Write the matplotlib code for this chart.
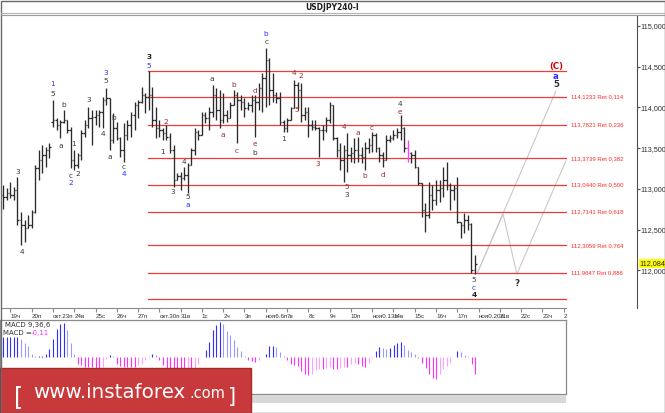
import matplotlib
matplotlib.use("Agg")
import matplotlib.pyplot as plt
import matplotlib.transforms as mtransforms
from matplotlib.collections import LineCollection
from matplotlib.patches import Rectangle

W, H = 665, 413

# 4H bars, USDJPY, 18 Oct .. 17 Nov
highs = [
    113.047, 113.010, 113.084, 113.023, 113.145, 112.716, 112.618, 112.679, 112.741, 113.293,
    113.477, 113.538, 113.513, 113.562, 114.090, 113.869, 113.845, 113.967, 113.845, 113.759,
    113.477, 113.440, 113.722, 113.845, 114.004, 113.967, 113.967, 113.967, 114.127, 114.237,
    114.114, 113.930, 113.820, 113.636, 113.808, 113.845, 113.943, 114.065, 114.090, 114.249,
    114.176, 114.446, 114.249, 114.004, 113.845, 113.746, 113.783, 113.685, 113.538, 113.194,
    113.207, 113.268, 113.317, 113.501, 113.746, 113.722, 113.943, 113.943, 114.004, 114.274,
    114.237, 114.213, 114.176, 113.967, 114.065, 114.213, 114.188, 114.151, 114.114, 114.065,
    114.151, 114.151, 114.298, 114.421, 114.728, 114.605, 114.421, 114.188, 114.188, 113.845,
    113.869, 114.004, 114.335, 114.311, 114.298, 114.004, 114.004, 113.845, 113.845, 113.759,
    113.783, 113.881, 114.065, 114.029, 113.636, 113.562, 113.538, 113.685, 113.513, 113.624,
    113.636, 113.513, 113.575, 113.624, 113.697, 113.685, 113.513, 113.452, 113.661, 113.661,
    113.722, 113.746, 113.906, 113.759, 113.599, 113.452, 113.477, 113.268, 113.072, 112.826,
    113.084, 113.047, 113.109, 113.109, 113.268, 113.329, 113.072, 113.047, 113.145, 112.593,
    112.704, 112.679, 112.581, 112.189,
]
lows = [
    112.753, 112.863, 112.888, 112.863, 112.557, 112.311, 112.348, 112.520, 112.520, 112.704,
    113.109, 113.194, 113.268, 113.378, 113.759, 113.722, 113.624, 113.808, 113.685, 113.256,
    113.231, 113.256, 113.354, 113.636, 113.746, 113.538, 113.783, 113.759, 113.746, 114.029,
    113.477, 113.562, 113.599, 113.391, 113.329, 113.599, 113.636, 113.722, 113.869, 114.053,
    113.930, 113.967, 113.759, 113.624, 113.636, 113.599, 113.599, 113.440, 113.023, 113.109,
    112.986, 113.109, 112.949, 113.293, 113.415, 113.599, 113.661, 113.808, 113.722, 113.881,
    113.845, 113.746, 113.808, 113.820, 113.869, 114.029, 113.562, 113.967, 113.881, 113.967,
    113.943, 113.636, 113.967, 113.943, 114.004, 114.029, 114.065, 114.053, 113.783, 113.697,
    113.697, 113.845, 113.992, 113.967, 113.820, 113.845, 113.636, 113.722, 113.722, 113.391,
    113.599, 113.697, 113.808, 113.599, 113.391, 113.231, 113.084, 113.207, 113.329, 113.317,
    113.329, 113.317, 113.231, 113.440, 113.452, 113.452, 113.329, 113.268, 113.354, 113.575,
    113.599, 113.624, 113.599, 113.452, 113.329, 113.317, 113.256, 113.047, 112.655, 112.471,
    112.643, 112.741, 112.802, 112.839, 112.900, 112.986, 112.741, 112.863, 112.581, 112.397,
    112.459, 112.495, 111.968, 111.956,
]
opens = [
    112.925, 112.900, 112.949, 112.925, 112.986, 112.618, 112.557, 112.520, 112.557, 112.716,
    113.256, 113.354, 113.415, 113.477, 113.820, 113.845, 113.783, 113.820, 113.845, 113.722,
    113.354, 113.293, 113.415, 113.685, 113.783, 113.869, 113.881, 113.906, 113.943, 114.090,
    114.114, 113.599, 113.746, 113.624, 113.477, 113.661, 113.783, 113.906, 114.029, 114.065,
    114.151, 114.127, 114.151, 113.845, 113.746, 113.722, 113.685, 113.636, 113.477, 113.109,
    113.158, 113.133, 113.170, 113.293, 113.477, 113.697, 113.661, 113.906, 113.869, 113.943,
    114.151, 113.967, 113.845, 113.906, 113.869, 114.029, 114.151, 114.090, 114.065, 113.992,
    114.029, 114.090, 114.065, 114.237, 114.360, 114.581, 114.213, 114.151, 114.114, 113.820,
    113.746, 113.845, 113.992, 114.274, 114.213, 113.906, 113.943, 113.783, 113.759, 113.746,
    113.722, 113.722, 113.845, 114.029, 113.624, 113.477, 113.354, 113.477, 113.415, 113.440,
    113.477, 113.415, 113.391, 113.501, 113.538, 113.661, 113.501, 113.415, 113.354, 113.599,
    113.624, 113.661, 113.697, 113.746, 113.501, 113.440, 113.415, 113.268, 113.072, 112.741,
    112.679, 112.925, 112.863, 112.986, 113.010, 113.109, 113.047, 112.986, 113.010, 112.593,
    112.557, 112.618, 112.569, 112.005,
]
closes = [
    112.900, 112.949, 112.925, 112.986, 112.618, 112.557, 112.520, 112.557, 112.716, 113.256,
    113.354, 113.415, 113.477, 113.513, 113.845, 113.783, 113.820, 113.845, 113.722, 113.354,
    113.293, 113.415, 113.685, 113.783, 113.869, 113.881, 113.906, 113.943, 114.090, 114.114,
    113.599, 113.746, 113.624, 113.477, 113.661, 113.783, 113.906, 114.029, 114.065, 114.151,
    114.127, 114.151, 113.845, 113.746, 113.722, 113.685, 113.636, 113.477, 113.109, 113.158,
    113.133, 113.170, 113.293, 113.477, 113.697, 113.661, 113.906, 113.869, 113.943, 114.151,
    113.967, 113.845, 113.906, 113.869, 114.029, 114.151, 114.090, 114.065, 113.992, 114.029,
    114.090, 114.065, 114.237, 114.360, 114.581, 114.213, 114.151, 114.114, 113.820, 113.746,
    113.845, 113.992, 114.274, 114.213, 113.906, 113.943, 113.783, 113.759, 113.746, 113.722,
    113.722, 113.845, 114.029, 113.624, 113.477, 113.354, 113.477, 113.415, 113.440, 113.477,
    113.415, 113.391, 113.501, 113.538, 113.661, 113.501, 113.415, 113.354, 113.599, 113.624,
    113.661, 113.697, 113.746, 113.501, 113.440, 113.415, 113.268, 113.072, 112.741, 112.679,
    112.925, 112.863, 112.986, 113.010, 113.109, 113.047, 112.986, 113.010, 112.593, 112.557,
    112.618, 112.569, 112.005, 112.084,
]
marked_bar = 114  # drawn in magenta on the original

macd = [
    0.130, 0.130, 0.130, 0.130, 0.130, 0.117, 0.091, 0.072, 0.020, 0.003,
    0.003, 0.007, 0.020, 0.052, 0.117, 0.182, 0.215, 0.221, 0.176, 0.091,
    0.020, -0.046, -0.052, -0.065, -0.065, -0.065, -0.078, -0.078, -0.065, -0.013,
    0.013, 0.004, -0.046, -0.059, -0.065, -0.065, -0.065, -0.065, -0.052, -0.046,
    -0.020, -0.007, 0.020, 0.013, -0.020, -0.052, -0.078, -0.085, -0.098, -0.098,
    -0.098, -0.098, -0.091, -0.091, -0.078, -0.046, -0.003, 0.046, 0.098, 0.176,
    0.208, 0.228, 0.215, 0.169, 0.143, 0.111, 0.065, 0.039, 0.007, -0.020,
    -0.026, -0.033, -0.020, -0.003, 0.020, 0.072, 0.072, 0.065, 0.033, 0.003,
    -0.020, -0.046, -0.052, -0.059, -0.091, -0.111, -0.117, -0.111, -0.085, -0.078,
    -0.078, -0.072, -0.065, -0.078, -0.078, -0.072, -0.068, -0.068, -0.046, -0.039,
    -0.046, -0.059, -0.065, -0.039, -0.007, 0.039, 0.065, 0.059, 0.052, 0.059,
    0.078, 0.091, 0.098, 0.078, 0.046, 0.033, 0.020, -0.007, -0.039, -0.072,
    -0.111, -0.137, -0.143, -0.111, -0.078, -0.059, -0.039, -0.003, 0.039, 0.033,
    0.013, 0.002, -0.046, -0.110,
]

day_ticks = [2, 8, 14, 20, 26, 32, 38, 44, 50, 56, 62, 68, 74, 80, 86, 92, 98,
             104, 110, 116, 122, 128, 134, 140, 146, 152, 158]
day_labels = ["19ч", "20п", "окт.23п", "24в", "25с", "26ч", "27п", "окт.30п", "31в",
              "1с", "2ч", "3п", "ноя6.6п", "7в", "8с", "9ч", "10п", "ноя0.13п", "14в",
              "15с", "16ч", "17п", "ноя0.20п", "21в", "22с", "23ч", "2"]

price_ticks = [112.0, 112.5, 113.0, 113.5, 114.0, 114.5, 115.0]

fib_prices = [114.1233, 113.7821, 113.3739, 113.0440, 112.7141, 112.3059, 111.9647]
fib_ratios = ["0,114", "0,236", "0,382", "0,500", "0,618", "0,764", "0,886"]
fib_top, fib_bottom = 114.442, 111.645

# projected paths after the low
path_a_idx = [133.6, 155.8]
path_a_price = [111.965, 114.200]
path_b_idx = [133.6, 140.9, 144.8, 158.6]
path_b_price = [111.965, 112.690, 111.956, 113.342]

wave_idx = [14.0, 14.0, 17.1, 16.3, 19.9, 19.1, 19.1, 21.1, 24.2, 29.0,
            29.0, 28.1, 31.0, 30.1, 34.0, 34.0, 41.1, 41.1, 45.9, 45.0,
            47.8, 50.9, 52.1, 52.1, 58.8, 65.0, 61.9, 65.9, 71.0, 71.0,
            71.0, 74.1, 74.1, 82.0, 83.9, 78.9, 82.8, 88.7, 96.0, 100.0,
            103.9, 102.0, 107.0, 96.9, 96.9, 111.8, 111.8, 132.7, 132.7, 132.7,
            4.1, 5.3]
wave_price = [114.286, 114.164, 114.029, 113.526, 113.550, 113.158, 113.072, 113.182, 114.090, 114.421,
              114.323, 113.673, 113.869, 113.391, 113.268, 113.182, 114.617, 114.507, 113.820, 113.452,
              112.962, 113.329, 112.901, 112.802, 114.347, 114.274, 113.661, 113.465, 114.200, 113.550,
              113.440, 114.899, 114.801, 114.421, 114.384, 113.612, 113.967, 113.305, 113.759, 113.685,
              113.747, 113.158, 113.170, 113.020, 112.925, 114.041, 113.943, 111.882, 111.784, 111.698,
              113.210, 112.226]
wave_text = ["1", "5", "b", "a", "1", "c", "2", "2", "3", "3",
             "5", "4", "b", "a", "c", "4", "3", "5", "2", "1",
             "3", "4", "5", "a", "a", "b", "a", "c", "d", "e",
             "b", "b", "c", "4", "2", "1", "5", "3", "4", "a",
             "c", "b", "d", "5", "3", "4", "e", "5", "c", "4",
             "3", "4"]
wave_kind = ["u", "k", "k", "k", "k", "k", "u", "k", "k", "u",
             "k", "k", "k", "k", "k", "u", "K", "u", "r", "k",
             "k", "k", "k", "u", "k", "r", "r", "r", "r", "r",
             "k", "u", "k", "r", "r", "k", "r", "r", "r", "r",
             "r", "r", "r", "r", "k", "k", "r", "k", "u", "K",
             "k", "k"]

target_idx = [155.8, 155.8, 155.8, 144.8]
target_price = [114.495, 114.384, 114.286, 111.845]
target_text = ["(C)", "a", "5", "?"]
target_color = ["#d00000", "#2a2aff", "#303030", "#303030"]

kind_color = {"k": "#3a3a3a", "K": "#202020", "u": "#3030ff", "r": "#a02c2c"}

plt.rcParams["font.family"] = ["DejaVu Sans"]
fig = plt.figure(figsize=(W / 100, H / 100), dpi=100)
fig.patch.set_facecolor("white")


def px_box(x0, y0, x1, y1):
    return [x0 / W, 1 - y1 / H, (x1 - x0) / W, (y1 - y0) / H]


# ---- main price panel
ax = fig.add_axes(px_box(2, 15, 637, 308))
ax.set_xlim(-0.366, 178.66)
ax.set_ylim(111.5387, 115.1325)
ax.set_facecolor("white")

segs, cols = [], []
for i, (o, h, l, c) in enumerate(zip(opens, highs, lows, closes)):
    col = "#ff40ff" if i == marked_bar else "#2b2b2b"
    segs += [[(i, l), (i, h)], [(i - 0.42, o), (i, o)], [(i, c), (i + 0.42, c)]]
    cols += [col] * 3
ax.add_collection(LineCollection(segs, colors=cols, linewidths=0.95, zorder=3))

fib_end = 158.6
fib_start = 40.8
for p in [fib_top] + fib_prices + [fib_bottom]:
    ax.plot([fib_start, fib_end], [p, p], color="#f03a3a", lw=0.9, zorder=2)
for p, r in zip(fib_prices, fib_ratios):
    ax.text(160.0, p, f"{p:.4f}".replace(".", ",") + " Ret " + r, fontsize=4.3,
            color="#ff2a2a", va="center", ha="left", family="Liberation Sans")

ax.plot(path_a_idx, path_a_price, color="#cfc6ca", lw=0.8, zorder=1)
ax.plot(path_b_idx, path_b_price, color="#cfc6ca", lw=0.8, zorder=1)

for xi, p, t, k in zip(wave_idx, wave_price, wave_text, wave_kind):
    ax.text(xi, p, t, fontsize=5.3, color=kind_color[k], ha="center", va="center",
            fontweight="bold" if k == "K" else "normal", zorder=4)
for xi, p, t, c in zip(target_idx, target_price, target_text, target_color):
    ax.text(xi, p, t, fontsize=6.2, color=c, ha="center", va="center",
            fontweight="bold", zorder=4)

for s in ["left", "top"]:
    ax.spines[s].set_visible(False)
ax.spines["right"].set_color("#505050")
ax.spines["bottom"].set_color("#8a8a8a")
ax.spines["bottom"].set_bounds(-0.366, fib_end)

ax.yaxis.tick_right()
ax.set_yticks(price_ticks)
ax.set_yticklabels([f"{v:.3f}".replace(".", ",") for v in price_ticks],
                   family="Liberation Sans")
ax.tick_params(axis="y", length=2, pad=0.8, labelsize=5.2, colors="#505050",
               labelcolor="#303030")

ax.set_xticks(day_ticks)
ax.set_xticklabels(day_labels, family="Liberation Sans", ha="left")
ax.tick_params(axis="x", length=3, pad=1.5, labelsize=4.5, colors="#8a8a8a",
               labelcolor="#303030")

blend = mtransforms.blended_transform_factory(ax.transAxes, ax.transData)
ax.text(1.004, closes[-1], f"{closes[-1]:.3f}".replace(".", ","), transform=blend,
        fontsize=5.2, ha="left", va="center", color="#202020", family="Liberation Sans",
        bbox=dict(fc="#ffff00", ec="none", pad=0.5), zorder=6)

# ---- MACD panel
axm = fig.add_axes(px_box(0, 320, 566, 394))
axm.set_xlim(-0.93, 158.6)
axm.set_ylim(-0.2425, 0.2386)
for i, v in enumerate(macd):
    prev = macd[i - 1] if i else v
    if v >= 0:
        col = "#2f2fff" if v >= prev else "#9a9aff"
    else:
        col = "#ff2fff" if v <= prev else "#ffa0ff"
    axm.plot([i, i], [0, v], color=col, lw=0.8, solid_capstyle="butt")
axm.set_xticks([])
axm.set_yticks([])
for s in axm.spines.values():
    s.set_color("#8a8a8a")
    s.set_linewidth(0.9)

# ---- frame, title, watermark (pixel coordinates)
ov = fig.add_axes([0, 0, 1, 1])
ov.set_xlim(0, W)
ov.set_ylim(H, 0)
ov.axis("off")

ov.add_patch(Rectangle((0, 395), 566, 8, fc="#d8d8d8", ec="none"))
ov.plot([1, W - 1], [13.3, 13.3], color="#b4b4b4", lw=0.8)
ov.plot([1, W - 1], [14.8, 14.8], color="#9a9a9a", lw=0.8)
ov.text(332, 7, "USDJPY240-I", fontsize=5.5, fontweight="bold", color="#202020",
        ha="center", va="center")

ov.text(5, 325, "MACD 9,36,6", fontsize=5, color="#303030", va="center")
ov.text(3, 333, "MACD =", fontsize=5, color="#303030", va="center")
ov.text(31, 333, f"{macd[-1]:.2f}".replace(".", ","), fontsize=5, color="#ff30ff",
        va="center")

ov.add_patch(Rectangle((0, 368), 251, 45, fc="#c8393b", ec="#a82a2c", lw=1))
ov.text(14, 404, "[", fontsize=17, color="white", va="baseline", ha="left")
ov.text(33, 398, "www.instaforex", fontsize=14.3, color="white", va="baseline", ha="left")
ov.text(189, 398, ".com", fontsize=10.5, color="white", va="baseline", ha="left")
ov.text(228, 403, "]", fontsize=15, color="white", va="baseline", ha="left")

ov.add_patch(Rectangle((0.5, 0.5), W - 1, H - 1, fill=False, ec="#6a6a6a", lw=1))

fig.savefig("out.png", dpi=100)
